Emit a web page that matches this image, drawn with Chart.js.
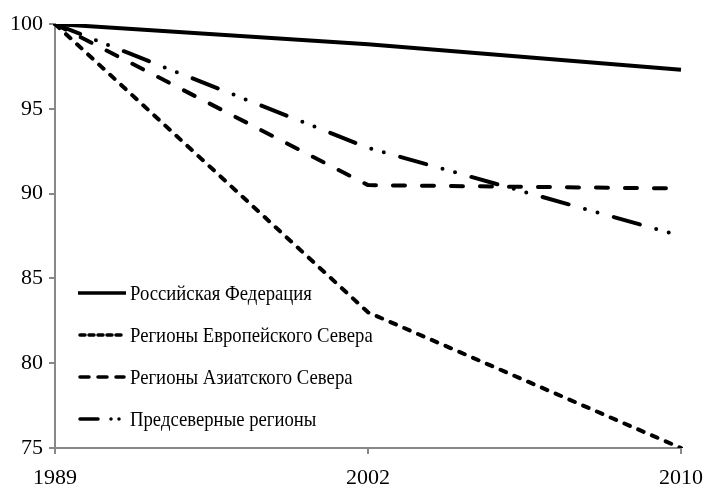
<!DOCTYPE html>
<html>
<head>
<meta charset="utf-8">
<script src="https://cdn.jsdelivr.net/npm/chart.js@4"></script>
<style>
  html, body { margin: 0; padding: 0; background: #fff; }
  #wrap { width: 703px; height: 493px; }
</style>
</head>
<body>
<div id="wrap"><canvas id="chart" width="703" height="493"></canvas></div>
<script>
const years = ['1989', '2002', '2010'];
const seriesNames = ['Российская Федерация', 'Регионы Европейского Севера', 'Регионы Азиатского Севера', 'Предсеверные регионы'];
const russia = [100, 98.8, 97.3];
const europeanNorth = [100, 83.0, 75.0];
const asianNorth = [100, 90.5, 90.3];
const preNorth = [100, 92.7, 87.5];
const yTicks = [75, 80, 85, 90, 95, 100];

// round caps: dash lengths grow by the line width
const dashes = [[], [6, 9], [12, 17], [27, 17, 0, 13, 0, 17]];
const legendDashes = [[], [5, 4], [9, 9], [18, 13, 0, 8, 0, 50]];
const caps = ['butt', 'round', 'round', 'round'];
const values = [russia, europeanNorth, asianNorth, preNorth];

// legend drawn inside the plot, bottom-left
const insideLegend = {
    id: 'insideLegend',
    afterDraw(chart) {
        const ctx = chart.ctx;
        const rows = [293, 335, 377, 419];
        chart.data.datasets.forEach((ds, i) => {
            const y = rows[i];
            ctx.save();
            ctx.strokeStyle = '#000';
            ctx.lineWidth = 3.5;
            ctx.lineCap = ds.borderCapStyle;
            ctx.setLineDash(legendDashes[i]);
            ctx.beginPath();
            ctx.moveTo(i === 0 ? 78 : 80, y);
            ctx.lineTo(i === 0 ? 126 : 124, y);
            ctx.stroke();
            ctx.setLineDash([]);
            ctx.translate(130, y);
            ctx.scale(0.85, 1);
            ctx.fillStyle = '#000';
            ctx.font = '22px "Liberation Serif"';
            ctx.textBaseline = 'middle';
            ctx.fillText(ds.label, 0, 1);
            ctx.restore();
        });
    }
};

new Chart(document.getElementById('chart'), {
    type: 'line',
    data: {
        labels: years,
        datasets: seriesNames.map((name, i) => ({
            label: name,
            data: values[i],
            borderColor: '#000',
            borderWidth: 4,
            borderDash: dashes[i],
            borderCapStyle: caps[i],
            borderJoinStyle: 'round',
            pointRadius: 0,
            tension: 0,
            fill: false
        }))
    },
    options: {
        responsive: false,
        animation: false,
        layout: { padding: { top: 24, right: 22, left: 0, bottom: 0 } },
        plugins: {
            legend: { display: false },
            tooltip: { enabled: false }
        },
        scales: {
            x: {
                offset: false,
                grid: { drawOnChartArea: false, drawTicks: true, tickLength: 6, color: '#888', lineWidth: 2 },
                border: { color: '#888', width: 2 },
                ticks: { color: '#000', font: { family: 'Liberation Serif', size: 22 }, padding: 11, maxRotation: 0 },
                afterFit(s) { s.height = 45; s.paddingLeft = 0; s.paddingRight = 0; }
            },
            y: {
                min: 75,
                max: 100,
                afterBuildTicks(s) { s.ticks = yTicks.map(v => ({ value: v })); },
                grid: { drawOnChartArea: false, drawTicks: true, tickLength: 6, color: '#888', lineWidth: 2 },
                border: { color: '#888', width: 2 },
                ticks: { color: '#000', font: { family: 'Liberation Serif', size: 22 }, padding: 6 },
                afterFit(s) { s.width = 55; s.paddingTop = 0; s.paddingBottom = 0; }
            }
        }
    },
    plugins: [insideLegend]
});
</script>
</body>
</html>
